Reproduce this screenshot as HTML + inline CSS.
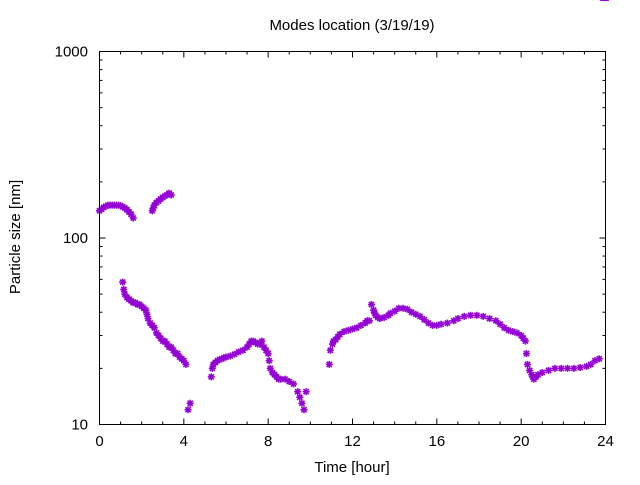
<!DOCTYPE html>
<html><head><meta charset="utf-8"><style>
body{margin:0;background:#fff}
svg text{font-family:"Liberation Sans",sans-serif;fill:#000}
</style></head><body>
<svg width="640" height="480" viewBox="0 0 640 480" xmlns="http://www.w3.org/2000/svg">
<rect width="640" height="480" fill="#fff"/>
<text x="352" y="30" font-size="15" text-anchor="middle">Modes location (3/19/19)</text>
<text x="352" y="472" font-size="15" text-anchor="middle">Time [hour]</text>
<text transform="translate(20,237) rotate(-90)" font-size="15" text-anchor="middle">Particle size [nm]</text>
<g id="axes"></g>
<g id="marks"></g>
<rect x="99.5" y="51.5" width="506" height="373" fill="none" stroke="#000" stroke-width="1"/>
</svg>
<script>
const hours=[0,0.1,0.2,0.3,0.4,0.5,0.6,0.7,0.8,0.9,1.0,1.1,1.2,1.3,1.4,1.5,1.6,
2.5,2.55,2.6,2.7,2.8,2.9,3.0,3.1,3.2,3.3,3.4,
1.1,1.15,1.2,1.3,1.4,1.5,1.6,1.7,1.8,1.9,2.0,2.1,2.2,2.25,2.3,2.4,2.5,2.6,2.7,2.8,2.9,3.0,3.1,3.2,3.3,3.4,3.5,3.6,3.7,3.8,3.9,4.0,4.1,4.2,4.3,
5.3,5.35,5.4,5.5,5.6,5.7,5.8,5.9,6.0,6.2,6.4,6.6,6.8,7.0,7.1,7.2,7.3,7.4,7.5,7.6,7.7,7.8,7.9,8.0,8.05,8.1,8.2,8.3,8.4,8.5,8.6,8.8,9.0,9.2,9.4,9.5,9.6,9.7,9.8,
10.9,10.95,11.05,11.1,11.2,11.3,11.4,11.6,11.8,12.0,12.2,12.4,12.6,12.7,12.8,12.9,13.0,13.05,13.1,13.2,13.3,13.5,13.7,13.8,14.0,14.2,14.4,14.6,14.8,15.0,15.2,15.4,15.6,15.8,16.0,16.2,16.5,16.8,17.0,17.3,17.6,17.9,18.2,18.5,18.8,19.0,19.2,19.4,19.6,19.8,20.0,20.1,20.2,20.25,20.3,20.4,20.5,20.55,20.6,20.7,20.8,21.0,21.3,21.6,21.9,22.2,22.5,22.8,23.1,23.3,23.5,23.7,23.9,24.0];
const sizes=[140,143,146,148,150,150,150,150,150,150,149,147,145,142,138,134,128,
140,145,150,155,158,162,165,168,170,174,170,
58,53,50,48,47,46,45,45,44,44,43,42,41,39,37,35,34,33,31,30,29,28,28,27,26,26,25,24,24,23,22.5,22,21,
12,13,18,20,21,21.5,22,22.3,22.5,22.8,23,23.3,23.8,24.5,25,26,27,28,28,27.5,27,27,28,26,25,24,22,20,19,18.5,18,17.5,17.5,17.5,17,16.5,15,14,13,
12,15,21,25,27,28,28.5,29.5,30.5,31.5,32,32.5,33,34,35,36,36,44,41,39.5,38.5,37.5,37,37.5,38.5,39.5,40.5,42,42,41.5,40,39,38,36.5,35,34,34,34.5,35,36,37,38,38.5,38.5,38,37,36,34.5,33,32,31.5,31,30,29,28,24,21,19.5,18.5,18,17.5,18,18.5,19,19.5,20,20,20,20,20.2,20.5,21,22,22.5];
const xTicks=[0,4,8,12,16,20,24];
const yTicks=[10,100,1000];
const yTickLabels=["10","100","1000"];
const X0=99.5,X1=605.5,Y0=424.5,Y1=51.5;
const xs=h=>X0+(h/24)*(X1-X0);
const ys=v=>Y0-(Math.log10(v)-1)/2*(Y0-Y1);
const NS="http://www.w3.org/2000/svg";
const axes=document.getElementById('axes'),marks=document.getElementById('marks');
function line(p,x1,y1,x2,y2,c,w){const l=document.createElementNS(NS,'line');l.setAttribute('x1',x1);l.setAttribute('y1',y1);l.setAttribute('x2',x2);l.setAttribute('y2',y2);l.setAttribute('stroke',c);l.setAttribute('stroke-width',w);p.appendChild(l);return l;}
for(let h=0;h<=24;h++){const x=xs(h);const L=h%4===0?6:3;
const t1=line(axes,x,Y0,x,Y0-L,'#000',1);


const t2=line(axes,x,Y1,x,Y1+L,'#000',1);

}
xTicks.forEach(h=>{const t=document.createElementNS(NS,'text');t.setAttribute('x',xs(h));t.setAttribute('y',446);t.setAttribute('font-size','15');t.setAttribute('text-anchor','middle');t.textContent=String(h);


axes.appendChild(t);});
for(let d=10;d<1000;d*=10){for(let m=1;m<=10;m++){const v=d*m;const y=ys(v);const L=(m===1||m===10)?6:3;
const a=line(axes,X0,y,X0+L,y,'#000',1);


const b=line(axes,X1,y,X1-L,y,'#000',1);

}}
yTicks.forEach((v,i)=>{const t=document.createElementNS(NS,'text');t.setAttribute('x',88);t.setAttribute('y',ys(v)+5);t.setAttribute('font-size','15');t.setAttribute('text-anchor','end');t.textContent=yTickLabels[i];


axes.appendChild(t);});
hours.forEach((h,i)=>{const x=xs(h),y=ys(sizes[i]);const g=document.createElementNS(NS,'g');


const c='#9400d3',r=3.5,r2=2.6;
line(g,x-r,y,x+r,y,c,1.6);line(g,x,y-r,x,y+r,c,1.6);
line(g,x-r2,y-r2,x+r2,y+r2,c,1.6);line(g,x-r2,y+r2,x+r2,y-r2,c,1.6);
marks.appendChild(g);});
</script>
</body></html>
